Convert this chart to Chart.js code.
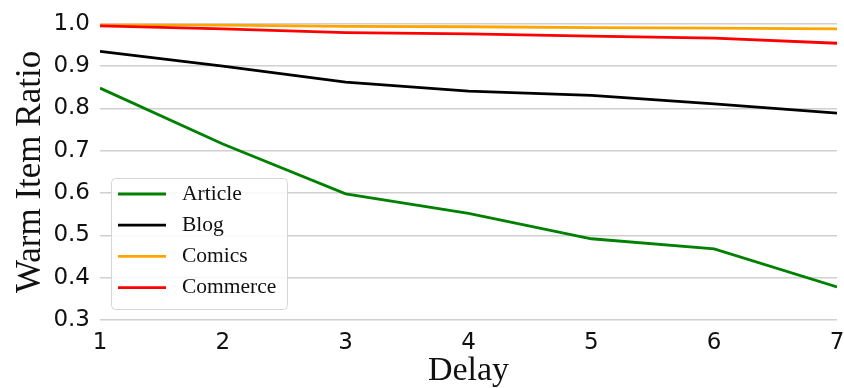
<!DOCTYPE html>
<html>
<head>
<meta charset="utf-8">
<script src="https://cdn.jsdelivr.net/npm/chart.js@4/dist/chart.umd.min.js"></script>
<style>
  html, body { margin: 0; padding: 0; background: #fff; }
  #c { display: block; }
</style>
</head>
<body>
<canvas id="c" width="844" height="388"></canvas>
<script>
// Delay steps on the x axis
const delays = [1, 2, 3, 4, 5, 6, 7];

// Warm item ratio per domain
const article  = [0.848, 0.716, 0.598, 0.552, 0.492, 0.468, 0.378];
const blog     = [0.935, 0.900, 0.862, 0.841, 0.831, 0.811, 0.789];
const comics   = [0.999, 0.997, 0.994, 0.993, 0.991, 0.990, 0.988];
const commerce = [0.995, 0.988, 0.979, 0.976, 0.971, 0.966, 0.954];

const seriesNames  = ['Article', 'Blog', 'Comics', 'Commerce'];
const seriesValues = [article, blog, comics, commerce];
const seriesColors = ['#008000', '#000000', '#FFA500', '#FF0000'];

const yTicks = [0.3, 0.4, 0.5, 0.6, 0.7, 0.8, 0.9, 1.0];

const serif = '"Liberation Serif", "Times New Roman", serif';
const sans  = '"DejaVu Sans", sans-serif';

const datasets = seriesNames.map((name, i) => ({
  label: name,
  data: delays.map((d, j) => ({ x: d, y: seriesValues[i][j] })),
  borderColor: seriesColors[i],
  backgroundColor: seriesColors[i],
  borderWidth: 2.8,
  pointRadius: 0,
  tension: 0,
  order: seriesNames.length - i   // later series drawn on top
}));

// Legend box drawn inside the plot area
const boxLegend = {
  id: 'boxLegend',
  afterDatasetsDraw(chart) {
    const ctx = chart.ctx;
    const x0 = 111, y0 = 178, w = 176, h = 131, r = 4;
    ctx.save();
    ctx.beginPath();
    ctx.roundRect(x0 + 0.5, y0 + 0.5, w, h, r);
    ctx.fillStyle = 'rgba(255,255,255,0.85)';
    ctx.fill();
    ctx.strokeStyle = '#d6d6d6';
    ctx.lineWidth = 1;
    ctx.stroke();
    ctx.font = '21.5px ' + serif;
    ctx.textBaseline = 'middle';
    chart.data.datasets.forEach((ds, i) => {
      const yy = 194 + i * 31.2;
      ctx.beginPath();
      ctx.moveTo(118, yy);
      ctx.lineTo(166, yy);
      ctx.strokeStyle = ds.borderColor;
      ctx.lineWidth = 2.8;
      ctx.stroke();
      ctx.fillStyle = '#111';
      ctx.fillText(ds.label, 182, yy);
    });
    ctx.restore();
  }
};

new Chart(document.getElementById('c'), {
  type: 'line',
  data: { datasets },
  plugins: [boxLegend],
  options: {
    responsive: false,
    animation: false,
    devicePixelRatio: 1,
    layout: { padding: { top: 20, right: 7, left: 0, bottom: 0 } },
    plugins: { legend: { display: false }, tooltip: { enabled: false } },
    scales: {
      x: {
        type: 'linear',
        min: 1, max: 7,
        afterFit(s) { s.height = 68; s.paddingRight = 0; s.paddingLeft = 0; },
        afterBuildTicks(s) { s.ticks = delays.map(v => ({ value: v })); },
        grid: { display: false, drawTicks: false },
        border: { display: false },
        ticks: {
          color: '#111', padding: 9,
          font: { family: sans, size: 23 },
          maxRotation: 0,
          callback: v => String(v)
        },
        title: {
          display: true, text: 'Delay', color: '#111',
          font: { family: serif, size: 34, lineHeight: 1.0 },
          padding: { top: 0, bottom: 0 }
        }
      },
      y: {
        type: 'linear',
        min: 0.3, max: 1.0,
        afterFit(s) { s.width = 100; },
        afterBuildTicks(s) { s.ticks = yTicks.map(v => ({ value: v })); },
        grid: { color: '#d0d0d0', lineWidth: 1.5, drawTicks: false },
        border: { display: false },
        ticks: {
          color: '#111', padding: 10,
          font: { family: sans, size: 23 },
          callback: v => v.toFixed(1)
        },
        title: {
          display: true, text: 'Warm Item Ratio', color: '#111',
          font: { family: serif, size: 35 },
          padding: { top: 10, bottom: 0 }
        }
      }
    }
  }
});
</script>
</body>
</html>
